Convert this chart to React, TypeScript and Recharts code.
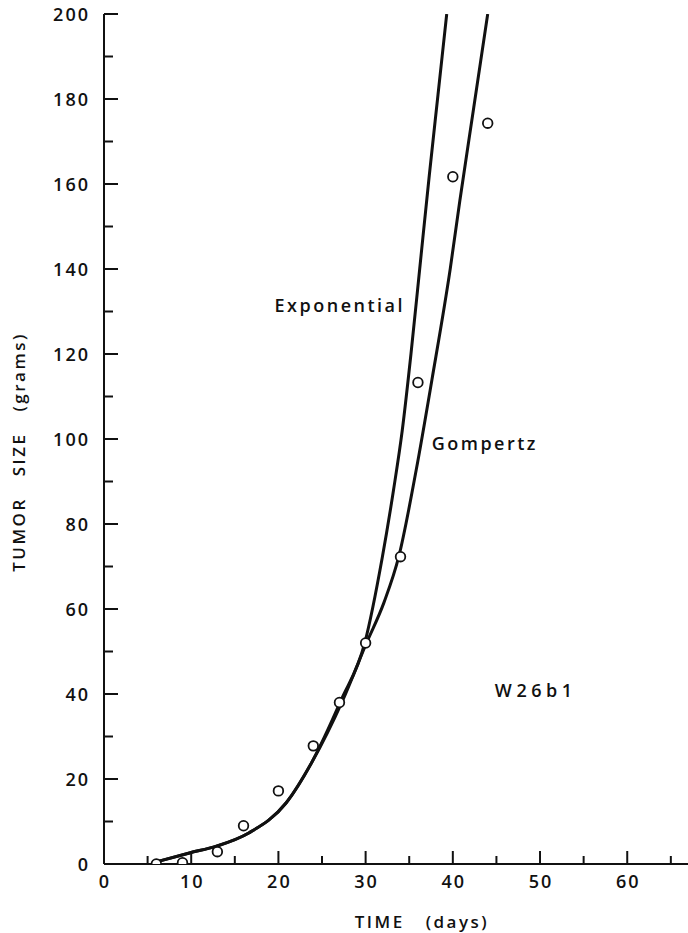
import React from "react";
import { ComposedChart, Line, Scatter, XAxis, YAxis, ReferenceDot } from "recharts";

// observed tumour sizes (grams) by day
const obsTime = [6, 9, 13, 16, 20, 24, 27, 30, 34, 36, 40, 44];
const obsSize = [0, 0.3, 2.9, 9, 17.2, 27.8, 38, 52, 72.3, 113.3, 161.7, 174.3];

// fitted curves
const expTime = [6, 9.8, 12.9, 16.6, 20.9, 23.8, 27.2, 29.9, 31.9, 33.2, 34.2, 35.2, 36.2, 37.3, 38.3, 39.3];
const expSize = [0.5, 2.6, 4.2, 7.3, 14.4, 23.8, 38.6, 52, 72, 88, 102, 120, 140, 162, 181, 200];

const gompTime = [6, 9.8, 12.9, 16.6, 20.9, 23.8, 27.4, 30.1, 32.1, 33.8, 35.8, 37.6, 39.7, 40.8, 42.4, 44.0];
const gompSize = [0.5, 2.6, 4.2, 7.3, 14.4, 23.8, 38.6, 52, 61.5, 72.3, 92.7, 113.9, 140, 156, 178, 200];

const xTicks = [0, 5, 10, 15, 20, 25, 30, 35, 40, 45, 50, 55, 60, 65];
const yTicks = [0, 10, 20, 30, 40, 50, 60, 70, 80, 90, 100, 110, 120, 130, 140, 150, 160, 170, 180, 190, 200];
const xLabels = [0, 10, 20, 30, 40, 50, 60];
const yLabels = [0, 20, 40, 60, 80, 100, 120, 140, 160, 180, 200];

const obs = obsTime.map((t, i) => ({ t, v: obsSize[i] }));
const expo = expTime.map((t, i) => ({ t, v: expSize[i] }));
const gomp = gompTime.map((t, i) => ({ t, v: gompSize[i] }));

const FONT = "'Open Sans', sans-serif";
const ink = "#111";

const tickText = { fontFamily: FONT, fontSize: 18, fontWeight: 600, fill: ink, letterSpacing: 2 };

function BottomTick({ x, y, payload }: any) {
  const v = payload.value;
  const major = v % 10 === 0;
  return (
    <g>
      <line x1={x} x2={x} y1={y} y2={y - (major ? 13 : 8)} stroke={ink} strokeWidth={2} />
      {xLabels.includes(v) && (
        <text x={x + 1} y={y + 24} textAnchor="middle" style={tickText}>
          {v}
        </text>
      )}
    </g>
  );
}

function TopTick({ x, y, payload }: any) {
  const major = payload.value % 10 === 0;
  return <line x1={x} x2={x} y1={y} y2={y + (major ? 13 : 8)} stroke={ink} strokeWidth={2} />;
}

function LeftTick({ x, y, payload }: any) {
  const v = payload.value;
  const major = v % 20 === 0;
  return (
    <g>
      <line x1={x} x2={x + (major ? 14 : 9)} y1={y} y2={y} stroke={ink} strokeWidth={2} />
      {yLabels.includes(v) && (
        <text x={x - 14} y={y + 6.5} textAnchor="end" style={tickText}>
          {v}
        </text>
      )}
    </g>
  );
}

function RightTick({ x, y, payload }: any) {
  const major = payload.value % 20 === 0;
  return <line x1={x} x2={x - (major ? 14 : 8)} y1={y} y2={y} stroke={ink} strokeWidth={2} />;
}

const note = (text: string, spacing = 2.5) => ({ viewBox }: any) => (
  <text
    x={viewBox.x}
    y={viewBox.y}
    textAnchor="middle"
    dominantBaseline="central"
    style={{ fontFamily: FONT, fontSize: 18, fontWeight: 600, fill: ink, letterSpacing: spacing }}
  >
    {text}
  </text>
);

const Ring = (p: any) => <circle cx={p.cx} cy={p.cy} r={4.8} fill="#fff" stroke={ink} strokeWidth={1.8} />;

export default function App() {
  return (
    <div style={{ position: "absolute", left: 0, top: 0, width: 688, height: 933, overflow: "hidden", background: "#fff" }}>
      <ComposedChart width={720} height={933} margin={{ top: 14, right: 23, left: 0, bottom: 0 }}>
        <XAxis
          xAxisId="b"
          type="number"
          dataKey="t"
          domain={[0, 68]}
          ticks={xTicks}
          interval={0}
          allowDataOverflow
          height={69}
          tickSize={0}
          tickMargin={0}
          tick={BottomTick}
          axisLine={{ stroke: ink, strokeWidth: 2 }}
          label={({ viewBox }: any) => (
            <text
              x={422}
              y={viewBox.y + 64}
              textAnchor="middle"
              style={{ fontFamily: FONT, fontSize: 17, fontWeight: 600, fill: ink, letterSpacing: 2.5, wordSpacing: 14 }}
            >
              TIME (days)
            </text>
          )}
        />
        <XAxis
          xAxisId="t"
          orientation="top"
          type="number"
          dataKey="t"
          domain={[0, 68]}
          ticks={xTicks}
          interval={0}
          allowDataOverflow
          height={0}
          tickSize={0}
          tickMargin={0}
          tick={TopTick}
          axisLine={{ stroke: ink, strokeWidth: 2 }}
        />
        <YAxis
          yAxisId="l"
          type="number"
          dataKey="v"
          domain={[0, 200]}
          ticks={yTicks}
          interval={0}
          allowDataOverflow
          width={104}
          tickSize={0}
          tickMargin={0}
          tick={LeftTick}
          axisLine={{ stroke: ink, strokeWidth: 2 }}
          label={() => {
            const cx = 18;
            const cy = 452;
            return (
              <text
                x={cx}
                y={cy}
                transform={`rotate(-90 ${cx} ${cy})`}
                textAnchor="middle"
                dominantBaseline="central"
                style={{ fontFamily: FONT, fontSize: 17, fontWeight: 600, fill: ink, letterSpacing: 2.5, wordSpacing: 14 }}
              >
                TUMOR SIZE (grams)
              </text>
            );
          }}
        />
        <YAxis
          yAxisId="r"
          orientation="right"
          type="number"
          dataKey="v"
          domain={[0, 200]}
          ticks={yTicks}
          interval={0}
          allowDataOverflow
          width={0}
          tickSize={0}
          tickMargin={0}
          tick={RightTick}
          axisLine={{ stroke: ink, strokeWidth: 2 }}
        />
        <Line
          data={expo}
          dataKey="v"
          xAxisId="b"
          yAxisId="l"
          type="monotone"
          stroke={ink}
          strokeWidth={3}
          dot={false}
          activeDot={false}
          isAnimationActive={false}
        />
        <Line
          data={gomp}
          dataKey="v"
          xAxisId="b"
          yAxisId="l"
          type="monotone"
          stroke={ink}
          strokeWidth={3}
          dot={false}
          activeDot={false}
          isAnimationActive={false}
        />
        <Scatter data={obs} dataKey="v" xAxisId="b" yAxisId="l" shape={Ring} isAnimationActive={false} />
        <ReferenceDot x={27.04} y={131.6} r={0} xAxisId="b" yAxisId="l" label={note("Exponential")} />
        <ReferenceDot x={43.67} y={99.1} r={0} xAxisId="b" yAxisId="l" label={note("Gompertz")} />
        <ReferenceDot x={49.5} y={41} r={0} xAxisId="b" yAxisId="l" label={note("W26b1", 4.5)} />
      </ComposedChart>
    </div>
  );
}
